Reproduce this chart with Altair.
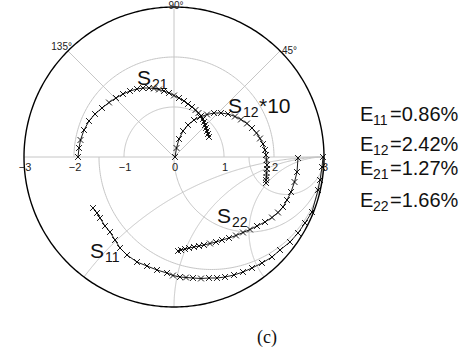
import altair as alt
import numpy as np
import pandas as pd

# ---- measured traces (real / imaginary parts; S12 is scaled by 10) ----
s11_re = [2.98, 2.96, 2.92, 2.88, 2.76, 2.62, 2.48, 2.32, 2.12, 1.96, 1.76, 1.56, 1.38,
          1.20, 1.02, 0.86, 0.70, 0.54, 0.38, 0.24, 0.12, -0.02, -0.14, -0.34, -0.54,
          -0.74, -0.94, -1.08, -1.18, -1.28, -1.38, -1.48, -1.54, -1.62]
s11_im = [0.00, -0.20, -0.46, -0.66, -1.10, -1.32, -1.52, -1.70, -1.86, -2.00, -2.12,
          -2.22, -2.30, -2.36, -2.40, -2.42, -2.42, -2.43, -2.42, -2.41, -2.40, -2.37,
          -2.32, -2.26, -2.18, -2.10, -1.96, -1.82, -1.66, -1.50, -1.38, -1.22, -1.12, -1.02]

s12_re = [0.02, 0.05, 0.10, 0.18, 0.28, 0.40, 0.52, 0.66, 0.80, 0.94, 1.08, 1.22, 1.34,
          1.46, 1.56, 1.65, 1.72, 1.78, 1.82, 1.84, 1.85, 1.86, 1.86, 1.85, 1.85, 1.84, 1.84]
s12_im = [0.00, 0.18, 0.36, 0.52, 0.64, 0.74, 0.80, 0.85, 0.88, 0.88, 0.86, 0.81, 0.75,
          0.67, 0.58, 0.48, 0.37, 0.26, 0.14, 0.04, -0.06, -0.16, -0.24, -0.32, -0.40,
          -0.46, -0.52]

s21_re = [-1.92, -1.90, -1.87, -1.80, -1.70, -1.58, -1.44, -1.30, -1.16, -1.02, -0.88,
          -0.74, -0.62, -0.50, -0.40, -0.30, -0.20, -0.10, 0.00, 0.10, 0.20, 0.28, 0.36,
          0.43, 0.49, 0.54, 0.58, 0.60, 0.62, 0.64, 0.66, 0.68, 0.70]
s21_im = [0.00, 0.18, 0.34, 0.54, 0.72, 0.86, 0.98, 1.09, 1.18, 1.26, 1.32, 1.36, 1.38,
          1.38, 1.37, 1.35, 1.32, 1.28, 1.23, 1.18, 1.12, 1.06, 1.00, 0.94, 0.88, 0.82,
          0.76, 0.70, 0.64, 0.58, 0.52, 0.46, 0.40]

s22_re = [2.48, 2.46, 2.41, 2.34, 2.26, 2.18, 2.08, 1.96, 1.82, 1.66, 1.52, 1.38, 1.24,
          1.10, 0.96, 0.84, 0.72, 0.60, 0.50, 0.40, 0.30, 0.22, 0.14, 0.08]
s22_im = [-0.02, -0.30, -0.50, -0.70, -0.86, -1.00, -1.11, -1.21, -1.30, -1.38, -1.45,
          -1.51, -1.57, -1.62, -1.66, -1.70, -1.73, -1.76, -1.78, -1.80, -1.82, -1.84,
          -1.86, -1.88]

# error summary shown at the right
err_names = ["11", "12", "21", "22"]
err_values = ["=0.86%", "=2.42%", "=1.27%", "=1.66%"]

# axis annotations
tick_values = [-3, -2, -1, 0, 1, 2, 3]
angle_labels = ["45°", "90°", "135°"]

RMAX = 3.0
ring_radii = [1, 2]            # polar rings in the upper half
spoke_angles = [45, 90, 135]   # radial spokes
smith_r = [1 / 3, 1, 3]        # constant-resistance circles (lower half)
smith_x = [0.5, 1, 2]          # constant-reactance arcs (lower half)

# ---- grid geometry ----
parts = []


def add(gid, xs, ys):
    parts.append(pd.DataFrame({"gid": gid, "x": xs, "y": ys, "i": np.arange(len(xs))}))


th = np.linspace(0, np.pi, 181)
for r in ring_radii:
    add(f"ring{r}", r * np.cos(th), r * np.sin(th))
for a in spoke_angles:
    ar = np.deg2rad(a)
    add(f"spoke{a}", [0, RMAX * np.cos(ar)], [0, RMAX * np.sin(ar)])
add("axis", [-RMAX, RMAX], [0, 0])

th2 = np.linspace(np.pi, 2 * np.pi, 181)
for r in smith_r:
    c, rad = RMAX * r / (1 + r), RMAX / (1 + r)
    add(f"res{r:.2f}", c + rad * np.cos(th2), rad * np.sin(th2))

t = np.linspace(0, np.pi / 2 * 0.995, 300)
for xr in smith_x:
    z = np.tan(t) - 1j * xr
    g = (z - 1) / (z + 1) * RMAX
    add(f"rea{xr}", np.append(g.real, RMAX), np.append(g.imag, 0))

grid_df = pd.concat(parts, ignore_index=True)

tho = np.linspace(0, 2 * np.pi, 361)
outer_df = pd.DataFrame({"x": RMAX * np.cos(tho), "y": RMAX * np.sin(tho), "i": np.arange(361)})

# ---- traces ----
tr = []
for name, xs, ys in [("S11", s11_re, s11_im), ("S12", s12_re, s12_im),
                     ("S21", s21_re, s21_im), ("S22", s22_re, s22_im)]:
    tr.append(pd.DataFrame({"trace": name, "x": xs, "y": ys, "i": range(len(xs))}))
trace_df = pd.concat(tr, ignore_index=True)

# scales: 1 unit = 50 px, centre of the diagram at (174, 157)
W, H = 475, 354
xs = alt.Scale(domain=[-174 / 50, (W - 174) / 50], nice=False, zero=False)
ys = alt.Scale(domain=[(157 - H) / 50, 157 / 50], nice=False, zero=False)
X = alt.X("x:Q", scale=xs, axis=None)
Y = alt.Y("y:Q", scale=ys, axis=None)

SANS = "Liberation Sans"

grid = alt.Chart(grid_df).mark_line(color="#c6c6c6", strokeWidth=1).encode(
    x=X, y=Y, detail="gid:N", order="i:Q")
outer = alt.Chart(outer_df).mark_line(color="black", strokeWidth=1.4).encode(
    x=X, y=Y, order="i:Q")
lines = alt.Chart(trace_df).mark_line(color="black", strokeWidth=0.9).encode(
    x=X, y=Y, detail="trace:N", order="i:Q")
marks = alt.Chart(trace_df).mark_point(
    shape="M-1,-1L1,1M-1,1L1,-1", size=34, color="black", strokeWidth=0.9,
    filled=False, opacity=1).encode(x=X, y=Y)

# tick labels along the real axis
tick_df = pd.DataFrame({"x": [v + 0.02 for v in tick_values], "y": -0.1,
                        "t": [str(v).replace("-", "\u2212") for v in tick_values]})
ticks = alt.Chart(tick_df).mark_text(font=SANS, fontSize=11, baseline="top",
                                     align="center", color="#222").encode(x=X, y=Y, text="t:N")

ang_df = pd.DataFrame({"x": [2.16, 0.04, -2.04], "y": [2.06, 2.97, 2.14], "t": angle_labels})
ang_l = alt.Chart(ang_df.iloc[[0]]).mark_text(font=SANS, fontSize=10, align="left",
                                              baseline="alphabetic", color="#222").encode(x=X, y=Y, text="t:N")
ang_c = alt.Chart(ang_df.iloc[[1]]).mark_text(font=SANS, fontSize=10, align="center",
                                              baseline="alphabetic", color="#222").encode(x=X, y=Y, text="t:N")
ang_r = alt.Chart(ang_df.iloc[[2]]).mark_text(font=SANS, fontSize=10, align="right",
                                              baseline="alphabetic", color="#222").encode(x=X, y=Y, text="t:N")

# trace names: "S" + subscript (+ scale factor)
lab_df = pd.DataFrame({
    "x": [-0.74, 1.08, 0.86, -1.68],
    "y": [1.44, 0.88, -1.32, -2.02],
    "sub": ["21", "12", "22", "11"],
    "suf": ["", "*10", "", ""],
})
lab_main = alt.Chart(lab_df).mark_text(font=SANS, fontSize=21, align="left",
                                       baseline="alphabetic", color="#111").encode(
    x=X, y=Y, text=alt.value("S"))
lab_sub = alt.Chart(lab_df).mark_text(font=SANS, fontSize=14, align="left", dx=15, dy=4,
                                      baseline="alphabetic", color="#111").encode(x=X, y=Y, text="sub:N")
lab_suf = alt.Chart(lab_df).mark_text(font=SANS, fontSize=21, align="left", dx=31,
                                      baseline="alphabetic", color="#111").encode(x=X, y=Y, text="suf:N")

# error summary
err_df = pd.DataFrame({"x": 3.72, "y": [0.72, 0.12, -0.36, -1.0],
                       "sub": err_names, "val": err_values})
e_main = alt.Chart(err_df).mark_text(font=SANS, fontSize=20, align="left",
                                     baseline="alphabetic", color="#111").encode(
    x=X, y=Y, text=alt.value("E"))
e_sub = alt.Chart(err_df).mark_text(font=SANS, fontSize=14, align="left", dx=13, dy=4,
                                    baseline="alphabetic", color="#111").encode(x=X, y=Y, text="sub:N")
e_val = alt.Chart(err_df).mark_text(font=SANS, fontSize=20, align="left", dx=30,
                                    baseline="alphabetic", color="#111").encode(x=X, y=Y, text="val:N")

cap_df = pd.DataFrame({"x": [1.86], "y": [-3.72], "t": ["(c)"]})
cap = alt.Chart(cap_df).mark_text(font="Liberation Serif", fontSize=18, align="center",
                                  baseline="alphabetic", color="#111").encode(x=X, y=Y, text="t:N")

chart = alt.layer(grid, outer, lines, marks, ticks, ang_l, ang_c, ang_r,
                  lab_main, lab_sub, lab_suf, e_main, e_sub, e_val, cap).properties(
    width=W, height=H, autosize=alt.AutoSizeParams(type="none"), padding=0,
    background="white"
).configure_view(stroke=None)

chart.save("out.html", embed_options={"renderer": "svg", "actions": False})
